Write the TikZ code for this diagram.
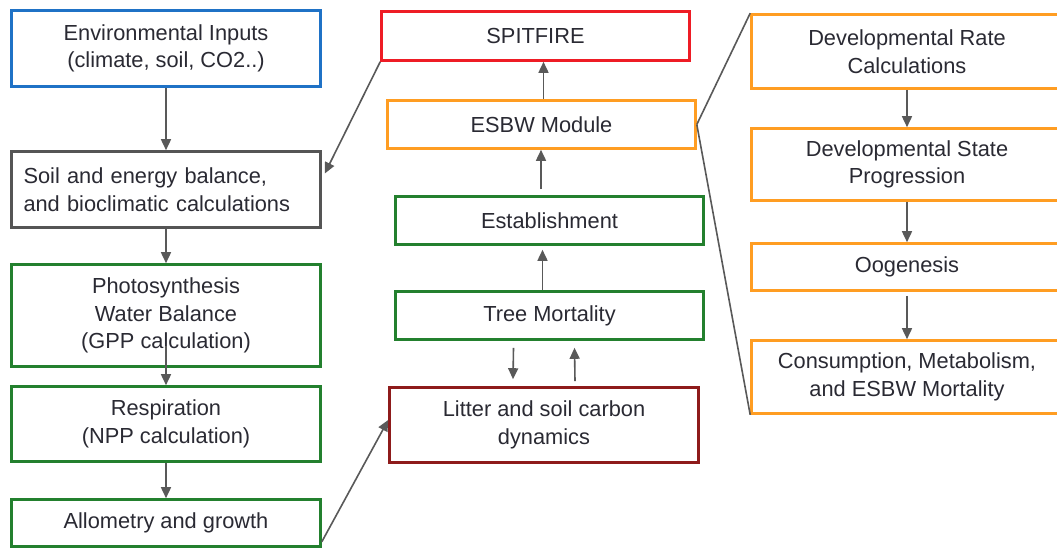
\documentclass[tikz,border=0pt]{standalone}
\usepackage{fontspec}
\setmainfont{Liberation Sans}
\usetikzlibrary{arrows.meta}
\definecolor{cblue}{HTML}{1F72C6}
\definecolor{cgray}{HTML}{555555}
\definecolor{cgreen}{HTML}{23802E}
\definecolor{cred}{HTML}{EE1C25}
\definecolor{corange}{HTML}{FF9D22}
\definecolor{cdred}{HTML}{8E1B1B}
\definecolor{cline}{HTML}{595959}
\definecolor{ctext}{HTML}{2A2A33}
\tikzset{
  box/.style={draw=#1, line width=2.6pt, rectangle, inner sep=0pt, align=center,
    text=ctext, font=\fontsize{21.8}{27.5}\selectfont},
  arr/.style={draw=cline, line width=1.6pt, -{Triangle[length=11pt,width=10pt]}},
  zoomline/.style={draw=cline, line width=1.6pt},
}
\begin{document}
\begin{tikzpicture}[x=1pt,y=-1pt]
\useasboundingbox (0,0) rectangle (1057,551);
\fill[white] (0,0) rectangle (1057,551);
% left column
\node[box=cblue, minimum width=309pt, minimum height=76pt] (env) at (166,48.5) {Environmental Inputs\\(climate, soil, CO2..)};
\node[box=cgray, minimum width=309pt, minimum height=76pt, align=left, text width=285pt] (soil) at (166,189.5) {Soil and energy balance,\\and bioclimatic calculations};
\node[box=cgreen, minimum width=309pt, minimum height=102pt] (photo) at (166,315.5) {Photosynthesis\\Water Balance\\(GPP calculation)};
\node[box=cgreen, minimum width=309pt, minimum height=75pt] (resp) at (166,424) {Respiration\\(NPP calculation)};
\node[box=cgreen, minimum width=309pt, minimum height=47pt] (allo) at (166,523) {Allometry and growth};
% middle column
\node[box=cred, minimum width=308pt, minimum height=49pt] (spit) at (535.5,36) {SPITFIRE};
\node[box=corange, minimum width=308pt, minimum height=48pt] (esbw) at (541.5,124.5) {ESBW Module};
\node[box=cgreen, minimum width=308pt, minimum height=48pt] (est) at (549.5,220.5) {Establishment};
\node[box=cgreen, minimum width=308pt, minimum height=48pt] (tree) at (549.5,315.5) {Tree Mortality};
\node[box=cdred, minimum width=309pt, minimum height=75pt] (litter) at (544,425) {Litter and soil carbon\\dynamics};
% right column
\node[box=corange, minimum width=311pt, minimum height=74pt] (devrate) at (907,51.5) {Developmental Rate\\Calculations};
\node[box=corange, minimum width=311pt, minimum height=72pt] (devstate) at (907,164.5) {Developmental State\\Progression};
\node[box=corange, minimum width=311pt, minimum height=47pt] (oog) at (907,267) {Oogenesis};
\node[box=corange, minimum width=311pt, minimum height=73pt] (cons) at (907,377) {Consumption, Metabolism,\\and ESBW Mortality};
% left arrows
\draw[arr] (env.south) -- (soil.north);
\draw[arr] (soil.south) -- (photo.north);
\draw[arr] ([yshift=22pt]photo.south) -- (resp.north);
\draw[arr] (resp.south) -- (allo.north);
% cross arrows
\draw[arr] (spit.south west) -- ([xshift=3pt,yshift=16pt]soil.east);
\draw[arr] ([yshift=6pt]allo.south east) -- ([yshift=5pt]litter.west);
% middle arrows
\draw[arr] ([xshift=2pt]esbw.north) -- ([xshift=8pt]spit.south);
\draw[arr] ([xshift=-8.5pt,yshift=6pt]est.north) -- ([xshift=-0.5pt]esbw.south);
\draw[arr] ([xshift=-7pt]tree.north) -- ([xshift=-7pt,yshift=-4pt]est.south);
\draw[arr] ([xshift=-36pt,yshift=-7pt]tree.south) -- ([xshift=-31pt,yshift=7pt]litter.north);
\draw[arr] ([xshift=31pt,yshift=5pt]litter.north) -- ([xshift=25pt,yshift=-7pt]tree.south);
% zoom lines
\draw[zoomline] (esbw.east) -- (devrate.north west);
\draw[zoomline] (esbw.east) -- (cons.south west);
% right arrows
\draw[arr] (devrate.south) -- (devstate.north);
\draw[arr] (devstate.south) -- (oog.north);
\draw[arr] ([yshift=-4pt]oog.south) -- (cons.north);
\end{tikzpicture}
\end{document}
